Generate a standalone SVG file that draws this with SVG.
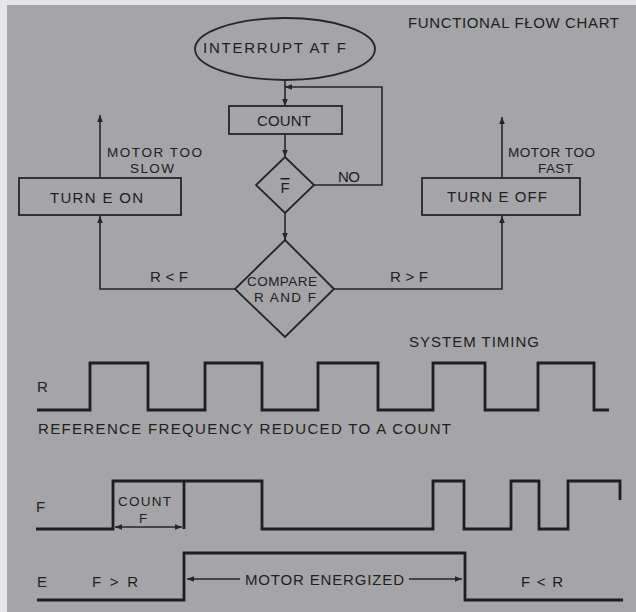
<svg xmlns="http://www.w3.org/2000/svg" width="636" height="612" viewBox="0 0 636 612">
<defs>
<marker id="ah" viewBox="0 0 10 10" refX="10" refY="5" markerWidth="7" markerHeight="7" markerUnits="userSpaceOnUse" orient="auto-start-reverse"><path d="M0,1 L10,5 L0,9 Z" fill="#262626"/></marker>
<style>
.t{font-family:"Liberation Sans",Arial,sans-serif;font-size:15px;fill:#202020;}
.n{font-size:13.5px;}
.m{text-anchor:middle;}
.s{fill:none;stroke:#262626;stroke-width:1.8;}
.w{fill:none;stroke:#1e1e1e;stroke-width:2.8;stroke-linejoin:miter;}
.c{fill:none;stroke:#262626;stroke-width:1.6;}
</style>
</defs>
<rect x="0" y="0" width="636" height="612" fill="#e6e6e8"/>
<rect x="7" y="5" width="629" height="607" fill="#a5a5a9"/>

<text class="t" x="408" y="28" textLength="211">FUNCTIONAL FŁOW CHART</text>

<g id="connectors">
<line class="c" x1="285" y1="80" x2="285" y2="106" marker-end="url(#ah)"/>
<line class="c" x1="285" y1="134" x2="285" y2="157" marker-end="url(#ah)"/>
<polyline class="c" points="314,185 382,185 382,87 285,87" marker-end="url(#ah)"/>
<line class="c" x1="285" y1="213" x2="285" y2="240" marker-end="url(#ah)"/>
<polyline class="c" points="235,289 100,289 100,216" marker-end="url(#ah)"/>
<polyline class="c" points="334,289 502,289 502,216" marker-end="url(#ah)"/>
<line class="c" x1="100" y1="178" x2="100" y2="115" marker-end="url(#ah)"/>
<line class="c" x1="502" y1="178" x2="502" y2="117" marker-end="url(#ah)"/>
<text class="t" x="338" y="182" textLength="22">NO</text>
<text class="t" x="150" y="282" textLength="38">R&lt;F</text>
<text class="t" x="390" y="282" textLength="38">R&gt;F</text>
<text class="t n" x="107" y="157" textLength="95">MOTOR TOO</text>
<text class="t n" x="130" y="173" textLength="44">SLOW</text>
<text class="t n" x="508" y="157" textLength="87">MOTOR TOO</text>
<text class="t n" x="538" y="173" textLength="35">FAST</text>
</g>

<g id="interrupt">
<ellipse class="s" cx="285" cy="49" rx="90" ry="31"/>
<text class="t" x="203" y="53" textLength="143">INTERRUPT AT F</text>
</g>
<g id="count">
<rect class="s" x="229" y="106" width="113" height="28"/>
<text class="t" x="257" y="126" textLength="54">COUNT</text>
</g>
<g id="fbar">
<polygon class="s" points="285,157 314,185 285,213 256,185"/>
<text class="t m" x="285" y="193" style="text-decoration:overline">F</text>
</g>
<g id="compare">
<polygon class="s" points="285,240 334,289 285,337 235,289"/>
<text class="t n" x="247" y="286" textLength="70">COMPARE</text>
<text class="t n" x="254" y="302" textLength="62">R AND F</text>
</g>
<g id="turn-on">
<rect class="s" x="19" y="178" width="162" height="37"/>
<text class="t" x="50" y="203" textLength="93">TURN E ON</text>
</g>
<g id="turn-off">
<rect class="s" x="422" y="178" width="158" height="37"/>
<text class="t" x="447" y="202" textLength="100">TURN E OFF</text>
</g>

<g id="timing">
<text class="t" x="409" y="347" textLength="130">SYSTEM TIMING</text>
<text class="t" x="37" y="392">R</text>
<polyline class="w" points="37,410 90,410 90,363 148,363 148,410 205,410 205,363 262,363 262,410 318,410 318,363 378,363 378,410 433,410 433,363 485,363 485,410 538,410 538,363 594,363 594,410 609,410"/>
<text class="t" x="38" y="434" textLength="413">REFERENCE FREQUENCY REDUCED TO A COUNT</text>

<text class="t" x="36" y="512">F</text>
<polyline class="w" points="36,529 113,529 113,481 262,481 262,529 433,529 433,481 464,481 464,529 511,529 511,481 539,481 539,529 568,529 568,481 620,481 620,500"/>
<line class="w" x1="184" y1="481" x2="184" y2="529"/>
<line class="c" x1="115" y1="527" x2="182" y2="527" marker-start="url(#ah)" marker-end="url(#ah)"/>
<text class="t n" x="118" y="506" textLength="53">COUNT</text>
<text class="t n m" x="143" y="523">F</text>

<text class="t" x="37" y="587">E</text>
<polyline class="w" points="37,600 184,600 184,553 465,553 465,600 623,600"/>
<text class="t" x="92" y="587" textLength="46">F &gt; R</text>
<line class="c" x1="240" y1="579" x2="187" y2="579" marker-end="url(#ah)"/>
<text class="t" x="245" y="585" textLength="159">MOTOR ENERGIZED</text>
<line class="c" x1="409" y1="579" x2="462" y2="579" marker-end="url(#ah)"/>
<text class="t" x="521" y="587" textLength="42">F&lt;R</text>
</g>
</svg>
